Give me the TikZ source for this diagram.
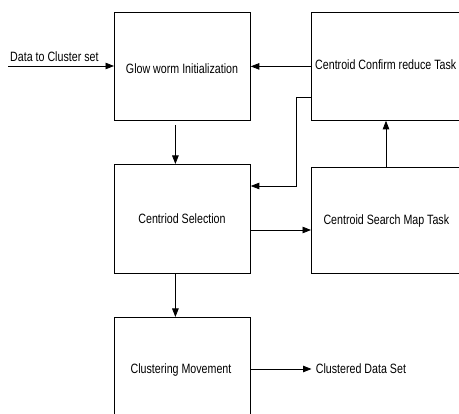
\documentclass[tikz,border=0pt]{standalone}
\usepackage{fontspec}
\usepackage{graphicx}
\setmainfont{Liberation Sans}
\usetikzlibrary{arrows.meta,calc}
% condensed sans text used for all labels
\newcommand{\narrowtext}[1]{\scalebox{0.79}[1]{#1}}
\begin{document}
\begin{tikzpicture}[x=1pt,y=-1pt,
  box/.style={draw, line width=0.8pt, inner sep=0pt, anchor=north west},
  lbl/.style={font=\fontsize{13.5}{15}\selectfont, inner sep=0pt, anchor=base},
  flow/.style={draw, line width=0.8pt, -{Triangle[length=8.5pt,width=6.5pt]}}]
\useasboundingbox (0,0) rectangle (459,414);
\clip (0,0) rectangle (459,414);
% process boxes
\node[box, minimum width=136pt, minimum height=108pt] (init) at (114,12) {};
\node[box, minimum width=160pt, minimum height=108pt] (conf) at (311,12) {};
\node[box, minimum width=136pt, minimum height=109pt] (sel) at (114,164) {};
\node[box, minimum width=160pt, minimum height=106pt] (search) at (311,167) {};
\node[box, minimum width=136pt, minimum height=120pt] (move) at (114,317) {};
% box texts
\node[lbl] (tinit) at (182,73.3) {\narrowtext{Glow worm Initialization}};
\node[lbl, anchor=base west] (tconf) at (315,69.3) {\narrowtext{Centroid Confirm reduce Task}};
\node[lbl] (tsel) at (182,224) {\narrowtext{Centriod Selection}};
\node[lbl, anchor=base west] (tsearch) at (323.3,225) {\narrowtext{Centroid Search Map Task}};
\node[lbl] (tmove) at (181,374) {\narrowtext{Clustering Movement}};
% external input and output
\coordinate (inp) at (8,66);
\node[lbl, anchor=base west] (tdata) at (10,61.3) {\narrowtext{Data to Cluster set}};
\coordinate (outp) at (311.5,369);
\node[lbl, anchor=base west] (tout) at (315.7,373.5) {\narrowtext{Clustered Data Set}};
% connectors
\draw[flow] (inp) -- (inp -| init.west);
\draw[flow] (conf.west) -- (init.east);
\draw[flow] ($(init.south)+(-7,4)$) -- ($(sel.north)+(-7,0)$);
\draw[flow] ($(search.north west)+(75,0)$) -- ($(conf.south west)+(75,0)$);
\draw[flow] ($(conf.south west)+(0,-23)$) -- ++(-15,0) |- ($(sel.north east)+(0,22)$);
\draw[flow] ($(sel.north east)+(0,66)$) coordinate (cd) -- (cd -| search.west);
\draw[flow] ($(sel.south)+(-7,0)$) -- ($(move.north)+(-7,0)$);
\draw[flow] (outp -| move.east) -- (outp);
\end{tikzpicture}
\end{document}
